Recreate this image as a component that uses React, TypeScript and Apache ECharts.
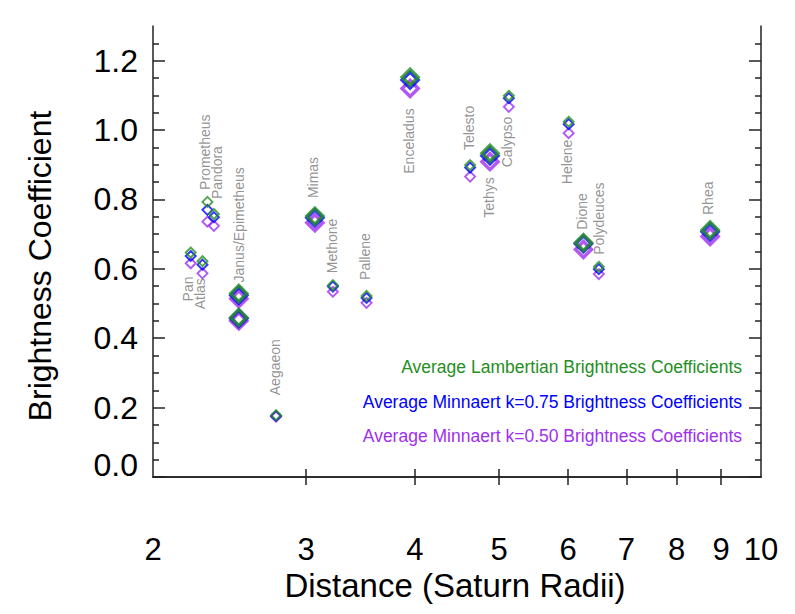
import React, { useEffect, useRef } from 'react';
import * as echarts from 'echarts';

// ---- data ----
const moons = ['Pan', 'Atlas', 'Prometheus', 'Pandora', 'Janus', 'Epimetheus', 'Aegaeon', 'Mimas', 'Methone', 'Pallene', 'Enceladus', 'Telesto', 'Tethys', 'Calypso', 'Helene', 'Dione', 'Polydeuces', 'Rhea'];
const moonLabels = ['Pan', 'Atlas', 'Prometheus', 'Pandora', 'Janus/Epimetheus', '', 'Aegaeon', 'Mimas', 'Methone', 'Pallene', 'Enceladus', 'Telesto', 'Tethys', 'Calypso', 'Helene', 'Dione', 'Polydeuces', 'Rhea'];
const distance = [2.21, 2.28, 2.31, 2.35, 2.51, 2.51, 2.77, 3.07, 3.22, 3.52, 3.95, 4.63, 4.88, 5.13, 6.01, 6.25, 6.51, 8.74];
const lambertian = [0.647, 0.622, 0.793, 0.758, 0.529, 0.460, 0.178, 0.752, 0.553, 0.522, 1.152, 0.899, 0.933, 1.099, 1.024, 0.675, 0.606, 0.712];
const minnaert075 = [0.637, 0.612, 0.770, 0.749, 0.524, 0.457, 0.176, 0.747, 0.549, 0.516, 1.144, 0.892, 0.926, 1.092, 1.017, 0.672, 0.599, 0.707];
const minnaert050 = [0.616, 0.587, 0.736, 0.724, 0.514, 0.450, 0.174, 0.733, 0.534, 0.502, 1.120, 0.866, 0.909, 1.067, 0.991, 0.656, 0.585, 0.693];
const largeMoon = [false, false, false, false, true, true, false, true, false, false, true, false, true, false, false, true, false, true];

const xTickLabels = [2, 3, 4, 5, 6, 7, 8, 9, 10];
const xInnerTicks = [3, 4, 5, 6, 7, 8, 9];
const yTickLabels = [0, 0.2, 0.4, 0.6, 0.8, 1.0, 1.2];
const yMinorTicks = [0.05, 0.1, 0.15, 0.25, 0.3, 0.35, 0.45, 0.5, 0.55, 0.65, 0.7, 0.75, 0.85, 0.9, 0.95, 1.05, 1.1, 1.15, 1.25];

const legendTexts = [
  'Average Lambertian Brightness Coefficients',
  'Average Minnaert k=0.75 Brightness Coefficients',
  'Average Minnaert k=0.50 Brightness Coefficients',
];
const xTitle = 'Distance (Saturn Radii)';
const yTitle = 'Brightness Coefficient';

// ---- layout / style (not data) ----
const GREEN = '#248f24';
const BLUE = '#0000ff';
const PURPLE = '#a030f0';
const FONT = '"Liberation Sans", Arial, Helvetica, sans-serif';
// [side, dx, dy] label anchor relative to the green point
const labelPlacement: [string, number, number][] = [
  ['down', -3, 24], ['down', -2, 17], ['up', -2, -12], ['up', 3, -15], ['up', 0, -11], ['none', 0, 0],
  ['up', -1, -20], ['up', -2, -18], ['up', -1, -12], ['up', -2, -16], ['down', -1, 31], ['up', -1, -15],
  ['down', -1, 24], ['down', -2, 21], ['down', -2, 18], ['up', -1, -13], ['up', 0, -12], ['up', -2, -15],
];

const lg = (v: number) => Math.log10(v);

function markerSeries(name: string, values: number[], color: string) {
  return {
    name,
    type: 'scatter',
    symbol: 'diamond',
    data: values.map((v, i) => ({
      value: [lg(distance[i]), v],
      symbolSize: largeMoon[i] ? 16 : 10,
      itemStyle: { color: 'rgba(0,0,0,0)', borderColor: color, borderWidth: largeMoon[i] ? 3.5 : 1.9 },
    })),
    emphasis: { disabled: true },
  };
}

export default function App() {
  const ref = useRef<HTMLDivElement>(null);
  useEffect(() => {
    if (!ref.current) return;
    const chart = echarts.init(ref.current, null, { renderer: 'svg' });
    const axisLineStyle = { color: '#222', width: 1.5 };
    const xBase = { type: 'value', min: lg(2), max: 1, splitLine: { show: false } };
    const yBase = { type: 'value', min: 0, max: 1.3, splitLine: { show: false } };
    chart.setOption({
      animation: false,
      grid: { left: 153, right: 34, top: 26, bottom: 137 },
      xAxis: [
        {
          ...xBase,
          position: 'bottom',
          axisLine: { show: true, lineStyle: axisLineStyle },
          axisTick: { show: true, inside: true, length: 8, customValues: xInnerTicks.map(lg), lineStyle: axisLineStyle },
          axisLabel: {
            customValues: xTickLabels.map(lg),
            formatter: (v: number) => String(Math.round(Math.pow(10, v))),
            fontSize: 31, fontFamily: FONT, color: '#000', margin: 57,
          },
        },
        {
          ...xBase,
          position: 'top',
          axisLine: { show: true, lineStyle: axisLineStyle },
          axisTick: { show: true, inside: true, length: 8, customValues: xInnerTicks.map(lg), lineStyle: axisLineStyle },
          axisLabel: { show: false },
        },
      ],
      yAxis: [
        {
          ...yBase,
          position: 'left',
          axisLine: { show: true, lineStyle: axisLineStyle },
          axisTick: { show: true, inside: true, length: 12, customValues: yTickLabels, lineStyle: axisLineStyle },
          axisLabel: {
            customValues: yTickLabels,
            formatter: (v: number) => (v === 0 ? '{z|0.0}' : v.toFixed(1)),
            rich: { z: { fontSize: 32, fontFamily: FONT, color: '#000', padding: [0, 0, 24, 0] } },
            fontSize: 32, fontFamily: FONT, color: '#000', margin: 15,
          },
        },
        {
          ...yBase,
          position: 'left',
          axisLine: { show: false },
          axisTick: { show: true, inside: true, length: 6, customValues: yMinorTicks, lineStyle: axisLineStyle },
          axisLabel: { show: false },
        },
        {
          ...yBase,
          position: 'right',
          axisLine: { show: true, lineStyle: axisLineStyle },
          axisTick: { show: true, inside: true, length: 12, customValues: yTickLabels, lineStyle: axisLineStyle },
          axisLabel: { show: false },
        },
        {
          ...yBase,
          position: 'right',
          axisLine: { show: false },
          axisTick: { show: true, inside: true, length: 6, customValues: yMinorTicks, lineStyle: axisLineStyle },
          axisLabel: { show: false },
        },
      ],
      series: [
        markerSeries('k=0.50', minnaert050, PURPLE),
        markerSeries('k=0.75', minnaert075, BLUE),
        markerSeries('Lambertian', lambertian, GREEN),
        {
          name: 'labels',
          type: 'scatter',
          symbolSize: 2,
          itemStyle: { color: 'rgba(0,0,0,0)' },
          emphasis: { disabled: true },
          data: moons.map((m, i) => {
            const [side, dx, dy] = labelPlacement[i];
            return {
              name: m,
              value: [lg(distance[i]), lambertian[i]],
              label: {
                show: side !== 'none' && moonLabels[i] !== '',
                formatter: moonLabels[i],
                position: [dx + 1, dy + 1],
                rotate: 90,
                align: side === 'up' ? 'left' : 'right',
                verticalAlign: 'middle',
                fontSize: 14,
                fontFamily: FONT,
                color: '#777777',
              },
            };
          }),
        },
      ],
      graphic: [
        ...legendTexts.map((t, i) => ({
          type: 'text',
          right: 795 - 742,
          top: 358 + i * 34.5,
          style: {
            text: t,
            fontSize: 17.5,
            fontFamily: FONT,
            fill: [GREEN, BLUE, PURPLE][i],
          },
        })),
        {
          type: 'text',
          x: 455,
          y: 585,
          style: { text: xTitle, fontSize: 33, fontFamily: FONT, fill: '#000', align: 'center', verticalAlign: 'middle' },
        },
        {
          type: 'text',
          x: 40,
          y: 266,
          rotation: Math.PI / 2,
          style: { text: yTitle, fontSize: 32, fontFamily: FONT, fill: '#000', align: 'center', verticalAlign: 'middle' },
        },
      ],
    });
    return () => chart.dispose();
  }, []);
  return <div ref={ref} style={{ width: 795, height: 614, position: 'absolute', left: 0, top: 0 }} />;
}
